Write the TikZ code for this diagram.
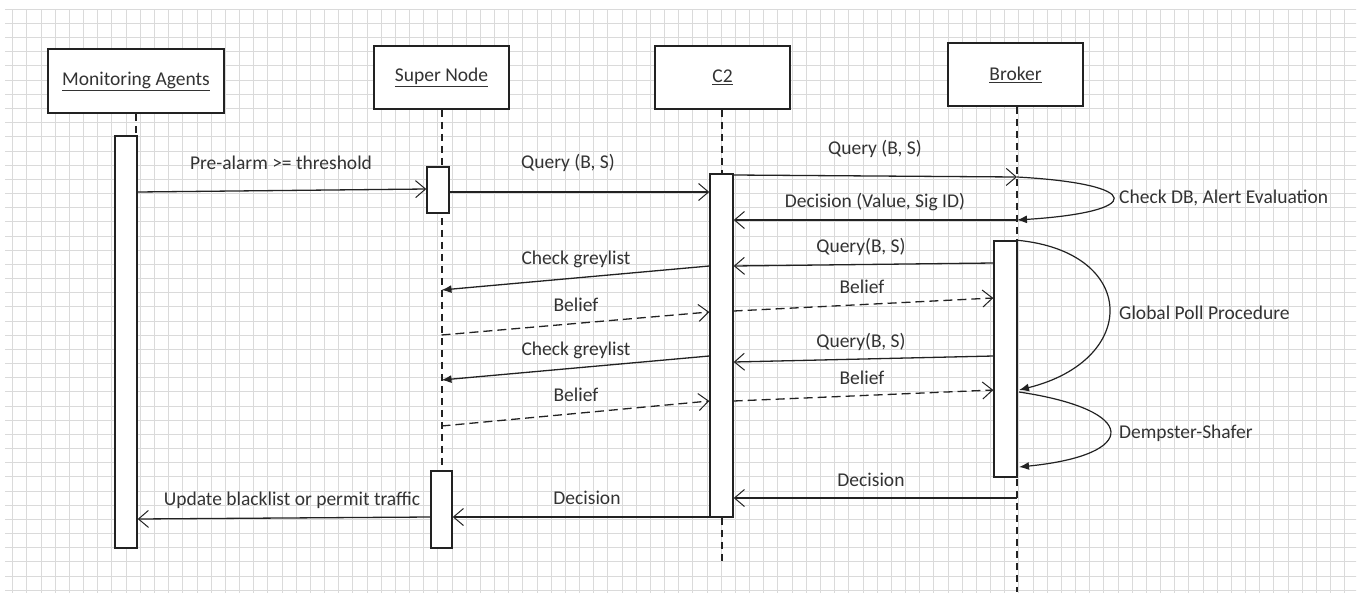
\documentclass[tikz,border=0pt]{standalone}
\usepackage{fontspec}
\setmainfont{Carlito}
\usetikzlibrary{arrows.meta}
\definecolor{txt}{HTML}{333333}
\definecolor{gridc}{HTML}{DADADA}
\definecolor{ln}{HTML}{222222}
\begin{document}
\begin{tikzpicture}[x=1pt,y=-1pt,
  lbl/.style={font=\fontsize{19.5}{22}\selectfont, text=txt, inner sep=0pt},
  actor/.style={draw=ln, line width=1.5pt, fill=white, inner sep=0pt, font=\fontsize{19.5}{22}\selectfont, text=txt},
  actbar/.style={draw=ln, line width=1.4pt, fill=white, inner sep=0pt},
  life/.style={draw=ln, line width=1.3pt, dash pattern=on 7pt off 5pt},
  msg/.style={draw=ln, line width=1.3pt, -{Straight Barb[length=10pt,width=17pt,line width=1pt]}},
  rmsg/.style={draw=ln, line width=1.3pt, dash pattern=on 9pt off 5pt, -{Straight Barb[length=10pt,width=17pt,line width=1pt]}},
  call/.style={draw=ln, line width=1.3pt, -{Latex[length=10pt,width=8pt]}},
  loopc/.style={draw=ln, line width=1.2pt, -{Latex[length=10pt,width=8pt]}}
]
\useasboundingbox (0,0) rectangle (1363,592);
\fill[white] (0,0) rectangle (1363,592);
% grid
\begin{scope}
\clip (5,9) rectangle (1356,592);
\foreach \i in {0,...,95} {\draw[gridc, line width=0.8pt] ({12.7+14.17*\i},0) -- ({12.7+14.17*\i},600);}
\foreach \j in {0,...,42} {\draw[gridc, line width=0.8pt] (0,{9.2+14.17*\j}) -- (1400,{9.2+14.17*\j});}
\end{scope}

% actors
\node[actor, minimum width=176pt, minimum height=64pt] (ma) at (136,81) {\underline{Monitoring Agents}};
\node[actor, minimum width=135pt, minimum height=63pt] (sn) at (441.5,77.5) {\underline{Super Node}};
\node[actor, minimum width=135pt, minimum height=63pt] (c2) at (722.5,77.5) {\underline{C2}};
\node[actor, minimum width=135pt, minimum height=63pt] (br) at (1015.5,74.5) {\underline{Broker}};

% lifeline ends
\coordinate (maEnd) at (136,136);
\coordinate (snEnd) at (442,548);
\coordinate (c2End) at (722,563);
\coordinate (brEnd) at (1017,592);
\draw[life] (ma.south -| maEnd) -- (maEnd);
\draw[life] (sn.south -| snEnd) -- (snEnd);
\draw[life] (c2.south -| c2End) -- (c2End);
\draw[life] (br.south -| brEnd) -- (brEnd);

% activation bars
\node[actbar, minimum width=22pt, minimum height=412pt] (maA) at (126,342) {};
\node[actbar, minimum width=22pt, minimum height=46pt] (snA1) at (438,190) {};
\node[actbar, minimum width=21pt, minimum height=77pt] (snA2) at (441.5,509.5) {};
\node[actbar, minimum width=23pt, minimum height=343pt] (c2A) at (721.5,345.5) {};
\node[actbar, minimum width=23pt, minimum height=236pt] (brA) at (1005.5,359) {};

% messages
\draw[msg] (maA.east |- 0,192) -- (snA1.west |- 0,189);
\node[lbl] (l1) at (281,163) {Pre-alarm >= threshold};

\draw[msg] (snA1.east |- 0,192) -- (c2A.west |- 0,192);
\node[lbl] (l2) at (568,163) {Query (B, S)};

\draw[msg] (c2A.east |- 0,175) -- (brEnd |- 0,177);
\node[lbl] (l3) at (875,149) {Query (B, S)};

\draw[loopc] (brEnd |- 0,177) .. controls (1145,184) and (1145,212) .. (brEnd |- 0,220);
\node[lbl, anchor=west] (l4) at (1119,198) {Check DB, Alert Evaluation};

\draw[msg] (brEnd |- 0,220) -- (c2A.east |- 0,220);
\node[lbl] (l5) at (875,202) {Decision (Value, Sig ID)};

\draw[msg] (brA.west |- 0,263) -- (c2A.east |- 0,266);
\node[lbl] (l6) at (861,247) {Query(B, S)};

\draw[call] (c2A.west |- 0,266) -- (sn.south |- 0,290);
\node[lbl] (l7) at (576,259) {Check greylist};

\draw[rmsg] (sn.south |- 0,335) -- (c2A.west |- 0,312);
\node[lbl] (l8) at (576,305) {Belief};

\draw[rmsg] (c2A.east |- 0,311) -- (brA.west |- 0,298);
\node[lbl] (l9) at (862,287) {Belief};

\draw[msg] (brA.west |- 0,356) -- (c2A.east |- 0,362);
\node[lbl] (l10) at (861,342) {Query(B, S)};

\draw[call] (c2A.west |- 0,356) -- (sn.south |- 0,380);
\node[lbl] (l11) at (576,350) {Check greylist};

\draw[rmsg] (sn.south |- 0,426) -- (c2A.west |- 0,401);
\node[lbl] (l12) at (576,395) {Belief};

\draw[rmsg] (c2A.east |- 0,401) -- (brA.west |- 0,390);
\node[lbl] (l13) at (862,378) {Belief};

\draw[loopc] (brA.north east) .. controls (1138,252) and (1140,360) .. (1019,390);
\node[lbl, anchor=west] (l14) at (1119,313) {Global Poll Procedure};

\draw[loopc] (1019,392) .. controls (1140,410) and (1140,455) .. (1019,467);
\node[lbl, anchor=west] (l15) at (1119,433) {Dempster-Shafer};

\draw[msg] (brEnd |- 0,498) -- (c2A.east |- 0,498);
\node[lbl] (l16) at (871,480) {Decision};

\draw[msg] (c2A.west |- 0,517) -- (snA2.east |- 0,517);
\node[lbl] (l17) at (587,498) {Decision};

\draw[msg] (snA2.west |- 0,517) -- (maA.east |- 0,519);
\node[lbl] (l18) at (292,500) {Update blacklist or permit traffic};
\end{tikzpicture}
\end{document}
